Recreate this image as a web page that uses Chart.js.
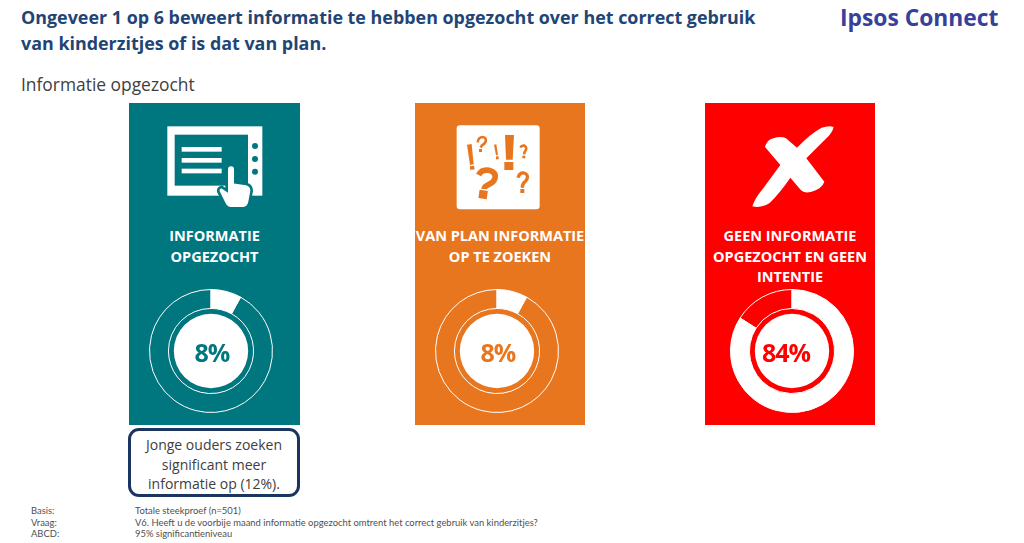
<!DOCTYPE html>
<html lang="nl">
<head>
<meta charset="utf-8">
<title>Informatie opgezocht</title>
<script src="https://cdn.jsdelivr.net/npm/chart.js@4/dist/chart.umd.min.js"></script>
<style>
    html, body { margin: 0; width: 1024px; height: 543px; overflow: hidden; background: #fff; }
    body { position: relative; font-family: "Open Sans", sans-serif; }
    .abs { position: absolute; }
    #title { left: 21px; top: 4px; width: 790px; font-size: 17.9px; line-height: 26px; font-weight: 700; color: #1f4576; margin: 0; }
    #logo { left: 840px; top: 0; font-size: 22.8px; line-height: 36px; font-weight: 700; color: #37409a; white-space: nowrap; }
    #subtitle { left: 21px; top: 72px; font-size: 17.4px; line-height: 24px; color: #404040; }

    .panel { position: absolute; top: 103px; width: 170px; height: 322px; color: #fff; }
    #panel0 { left: 129px; width: 171px; background: #00767f; --ink: #00767f; --cx: 82px; --px: 83px; }
    #panel1 { left: 415px; background: #e8761e; --ink: #e8761e; --cx: 82px; --px: 83px; }
    #panel2 { left: 705px; background: #ff0000; --ink: #ff0000; --cx: 87px; --px: 81px; }
    .panel svg { position: absolute; left: 0; top: 0; width: 171px; height: 120px; }
    .label { position: absolute; left: -5px; right: -5px; top: 123px; text-align: center; font-size: 14.5px; line-height: 20.5px; font-weight: 700; }
    .panel canvas { position: absolute; left: calc(var(--cx) - 62px); top: 186px; }
    .pct { position: absolute; left: calc(var(--px) - 40px); width: 80px; top: 231px; text-align: center; font-size: 25px; letter-spacing: -1px; line-height: 36px; font-weight: 700; color: var(--ink); }

    #callout { left: 128px; top: 428px; width: 166px; height: 63px; border: 3px solid #1a3560; border-radius: 11px; text-align: center; font-size: 14px; line-height: 19.5px; color: #404040; display: flex; align-items: center; justify-content: center; }
    #callout div { position: relative; top: 2px; }
    #footer { left: 31px; top: 505px; font-family: Lato, sans-serif; font-size: 9.42px; line-height: 11.7px; color: #505050; }
    #footer div { white-space: nowrap; }
    #footer span { display: inline-block; width: 104px; }
</style>
</head>
<body>
<h1 id="title" class="abs">Ongeveer 1 op 6 beweert informatie te hebben opgezocht over het correct gebruik<br>van kinderzitjes of is dat van plan.</h1>
<div id="logo" class="abs">Ipsos Connect</div>
<div id="subtitle" class="abs">Informatie opgezocht</div>

<div class="panel" id="panel0">
    <svg viewBox="0 0 513 360">
        <rect x="115" y="70" width="285" height="208" fill="#fff"/>
        <rect x="137" y="95" width="220" height="153" fill="#00767f"/>
        <rect x="158" y="132" width="120" height="14" fill="#fff"/>
        <rect x="158" y="165" width="120" height="14" fill="#fff"/>
        <rect x="158" y="197" width="120" height="14" fill="#fff"/>
        <circle cx="378" cy="129" r="9" fill="#00767f"/>
        <circle cx="378" cy="168" r="9" fill="#00767f"/>
        <circle cx="378" cy="206" r="9" fill="#00767f"/>
        <path d="M293 200 Q293 186 306 186 Q319 186 319 200 L319 238 L352 243 Q368 247 368 264 L362 296 Q358 316 340 316 L306 316 Q293 316 286 302 L268 266 Q266 254 278 252 L293 262 Z" fill="#fff" stroke="#00767f" stroke-width="8"/>
    </svg>
    <div class="label">INFORMATIE<br>OPGEZOCHT</div>
    <canvas id="ring0" width="124" height="124"></canvas>
    <div class="pct" id="pct0"></div>
</div>

<div class="panel" id="panel1">
    <svg viewBox="0 0 513 360">
        <rect x="125" y="67" width="249" height="252" rx="10" fill="#fff"/>
        <g fill="#e8761e" stroke="none">
            <path d="M156 125 L170 123 L176 184 L165 186 Z"/><rect x="165" y="189" width="13" height="11" transform="rotate(-6 171 194)"/>
            <path d="M237 125 L244 124 L249 156 L243 157 Z"/><rect x="243" y="160" width="8" height="9"/>
            <path d="M270 96 L297 96 L293 170 L273 170 Z"/><rect x="268" y="177" width="27" height="24"/>
            <rect x="192" y="262" width="25" height="25" transform="rotate(8 204 274)"/>
            <rect x="192" y="138" width="9" height="9"/>
            <rect x="322" y="158" width="9" height="8"/>
            <rect x="316" y="258" width="12" height="12"/>
        </g>
        <g fill="none" stroke="#e8761e" stroke-linecap="butt">
            <path d="M188 118 Q190 102 203 102 Q215 104 212 116 Q208 124 200 128 L197 134" stroke-width="8"/>
            <path d="M316 134 Q320 126 328 128 Q337 132 332 142 Q327 147 328 154" stroke-width="8"/>
            <path d="M191 216 Q200 198 222 202 Q244 208 240 226 Q236 238 222 244 Q208 250 207 258" stroke-width="17"/>
            <path d="M309 224 Q314 208 327 210 Q341 214 336 228 Q332 236 326 240 Q322 246 322 254" stroke-width="10"/>
        </g>
    </svg>
    <div class="label">VAN PLAN INFORMATIE<br>OP TE ZOEKEN</div>
    <canvas id="ring1" width="124" height="124"></canvas>
    <div class="pct" id="pct1"></div>
</div>

<div class="panel" id="panel2">
    <svg viewBox="0 0 513 360">
        <path d="M180 132 Q186 110 205 106 Q228 98 243 106 L276 134 Q316 92 350 74 Q372 66 386 72 Q382 90 362 108 L304 166 L358 236 Q352 256 320 266 Q298 272 288 262 L256 224 Q226 268 194 300 Q170 316 142 310 Q150 286 170 262 L226 186 Z" fill="#fff"/>
    </svg>
    <div class="label">GEEN INFORMATIE<br>OPGEZOCHT EN GEEN<br>INTENTIE</div>
    <canvas id="ring2" width="124" height="124"></canvas>
    <div class="pct" id="pct2"></div>
</div>

<div id="callout" class="abs"><div>Jonge ouders zoeken<br>significant meer<br>informatie op (12%).</div></div>

<div id="footer" class="abs">
    <div><span>Basis:</span>Totale steekproef (n=501)</div>
    <div><span>Vraag:</span>V6. Heeft u de voorbije maand informatie opgezocht omtrent het correct gebruik van kinderzitjes?</div>
    <div><span>ABCD:</span>95% significantieniveau</div>
</div>

<script>
const categories = ["Informatie opgezocht", "Van plan informatie op te zoeken", "Geen informatie opgezocht en geen intentie"];
const shares = [8, 8, 84];
const remainders = [92, 92, 16];

// ring thickness in px: outer band, gap, centre disc
const ringWeights = [18.7, 5.3, 36.7];

categories.forEach((name, i) => {
    document.getElementById('pct' + i).textContent = shares[i] + '%';

    new Chart(document.getElementById('ring' + i), {
        type: 'doughnut',
        data: {
            labels: [name, 'Overig'],
            datasets: [
                {
                    data: [shares[i], remainders[i]],
                    weight: ringWeights[0],
                    backgroundColor: ['#ffffff', 'rgba(0,0,0,0)'],
                    borderColor: '#ffffff',
                    borderWidth: 1
                },
                {
                    data: [100],
                    weight: ringWeights[1],
                    backgroundColor: 'rgba(0,0,0,0)',
                    borderWidth: 0
                },
                {
                    data: [100],
                    weight: ringWeights[2],
                    backgroundColor: '#ffffff',
                    borderWidth: 0
                }
            ]
        },
        options: {
            responsive: false,
            animation: false,
            cutout: 0,
            plugins: { legend: { display: false }, tooltip: { enabled: false } }
        }
    });
});
</script>
</body>
</html>
